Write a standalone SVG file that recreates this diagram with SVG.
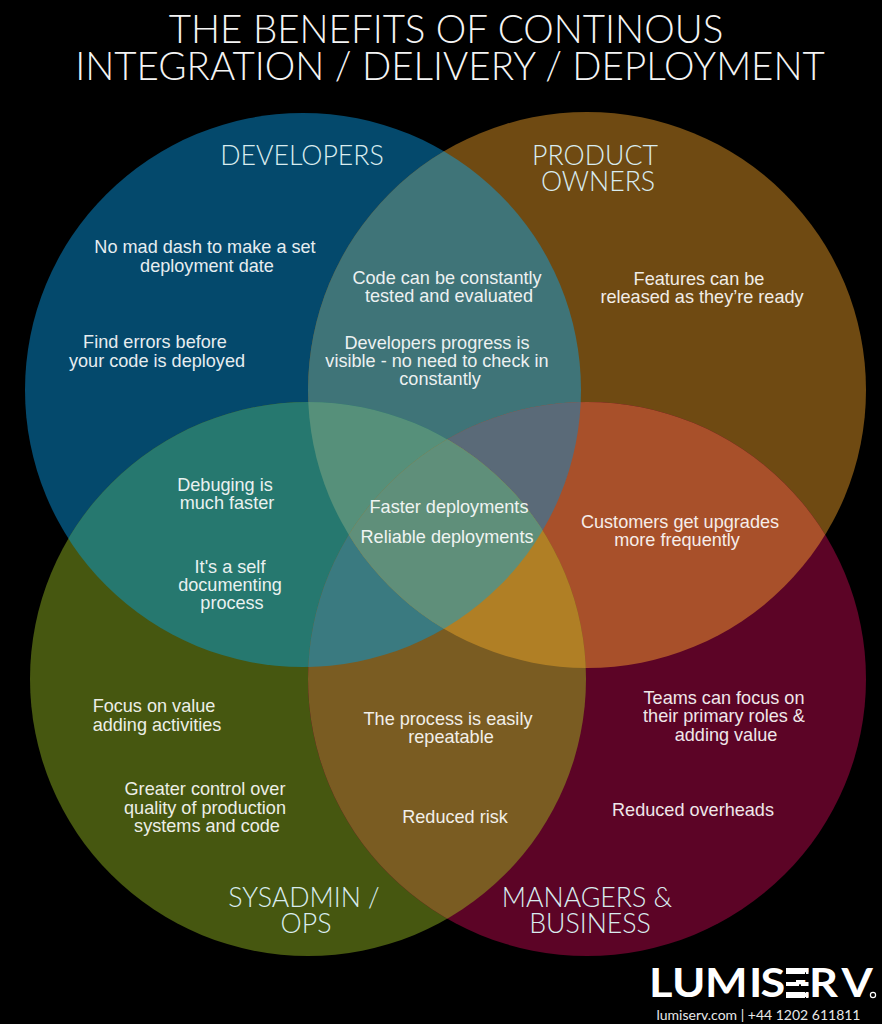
<svg xmlns="http://www.w3.org/2000/svg" width="882" height="1024" viewBox="0 0 882 1024">
<style>
.t{font-family:"Lato","Liberation Sans",sans-serif;font-weight:300;fill:#f4f4f4;text-anchor:middle}
.h{font-family:"Lato","Liberation Sans",sans-serif;font-weight:300;font-size:26.7px;fill:#d9ecef;text-anchor:middle}
.b{font-family:"Liberation Sans",Arial,sans-serif;font-size:18.1px;fill:#fff;text-anchor:middle;opacity:.9}
</style>
<defs>
<ellipse id="cd" cx="303" cy="390" rx="278" ry="277"/>
<ellipse id="cp" cx="587" cy="390" rx="279" ry="278"/>
<ellipse id="cs" cx="308" cy="679" rx="278" ry="277"/>
<ellipse id="cm" cx="587" cy="679" rx="279" ry="277"/>
<clipPath id="d"><use href="#cd"/></clipPath>
<clipPath id="p"><use href="#cp"/></clipPath>
<clipPath id="s"><use href="#cs"/></clipPath>
<clipPath id="m"><use href="#cm"/></clipPath>
</defs>
<rect width="882" height="1024" fill="#000"/>
<g id="title">
<text class="t" x="446" y="43" font-size="38.5">THE BENEFITS OF CONTINOUS</text>
<text class="t" x="450" y="80" font-size="38.5">INTEGRATION / DELIVERY / DEPLOYMENT</text>
</g>
<g id="venn-regions">
<use href="#cd" fill="#04496c"/>
<use href="#cp" fill="#6f4a12"/>
<use href="#cs" fill="#465710"/>
<use href="#cm" fill="#5c0426"/>
<g clip-path="url(#d)"><use href="#cp" fill="#3f7478"/><use href="#cs" fill="#26786f"/></g>
<g clip-path="url(#p)"><use href="#cm" fill="#a8502a"/></g>
<g clip-path="url(#s)"><use href="#cm" fill="#7a5c22"/></g>
<g clip-path="url(#d)"><g clip-path="url(#p)"><use href="#cm" fill="#5a6a78"/><use href="#cs" fill="#56907a"/></g></g>
<g clip-path="url(#s)"><g clip-path="url(#m)"><use href="#cd" fill="#3a7a80"/><use href="#cp" fill="#b07f25"/></g></g>
<g clip-path="url(#d)"><g clip-path="url(#p)"><g clip-path="url(#s)"><use href="#cm" fill="#5f8f7a"/></g></g></g>
</g>
<g id="developers">
<text class="h" x="302" y="165">DEVELOPERS</text>
<text class="b" x="205" y="253">No mad dash to make a set</text>
<text class="b" x="207" y="272">deployment date</text>
<text class="b" x="155" y="348">Find errors before</text>
<text class="b" x="157" y="367">your code is deployed</text>
</g>
<g id="product-owners">
<text class="h" x="595" y="165">PRODUCT</text>
<text class="h" x="598" y="191">OWNERS</text>
<text class="b" x="699" y="285">Features can be</text>
<text class="b" x="702" y="303">released as they’re ready</text>
</g>
<g id="dev-product">
<text class="b" x="447" y="284">Code can be constantly</text>
<text class="b" x="449" y="302">tested and evaluated</text>
<text class="b" x="437" y="349">Developers progress is</text>
<text class="b" x="437" y="367">visible - no need to check in</text>
<text class="b" x="440" y="385">constantly</text>
</g>
<g id="dev-sysadmin">
<text class="b" x="225" y="491">Debuging is</text>
<text class="b" x="227" y="509">much faster</text>
<text class="b" x="230" y="573">It's a self</text>
<text class="b" x="230" y="591">documenting</text>
<text class="b" x="232" y="609">process</text>
</g>
<g id="center">
<text class="b" x="449" y="513">Faster deployments</text>
<text class="b" x="447" y="543">Reliable deployments</text>
</g>
<g id="product-managers">
<text class="b" x="680" y="528">Customers get upgrades</text>
<text class="b" x="677" y="546">more frequently</text>
</g>
<g id="sysadmin">
<text class="b" x="154" y="712">Focus on value</text>
<text class="b" x="157" y="731">adding activities</text>
<text class="b" x="205" y="795">Greater control over</text>
<text class="b" x="205" y="814">quality of production</text>
<text class="b" x="207" y="832">systems and code</text>
<text class="h" x="304" y="907">SYSADMIN /</text>
<text class="h" x="306" y="933">OPS</text>
</g>
<g id="sysadmin-managers">
<text class="b" x="448" y="725">The process is easily</text>
<text class="b" x="451" y="743">repeatable</text>
<text class="b" x="455" y="823">Reduced risk</text>
</g>
<g id="managers">
<text class="b" x="724" y="704">Teams can focus on</text>
<text class="b" x="724" y="722">their primary roles &amp;</text>
<text class="b" x="726" y="741">adding value</text>
<text class="b" x="693" y="816">Reduced overheads</text>
<text class="h" x="587" y="907">MANAGERS &amp;</text>
<text class="h" x="590" y="933">BUSINESS</text>
</g>
<g id="logo">
<text transform="scale(1.1,1)" x="590 611 641 681 691.4 712.7 735.5 765" y="997.5" font-family="Lato,'Liberation Sans',sans-serif" font-weight="700" font-size="41" fill="#fff">LUMISERV</text>
<g fill="#000"><rect x="785" y="974" width="11" height="8"/><rect x="785" y="986" width="11" height="6"/></g>
<g fill="#fff"><rect x="786" y="968" width="19" height="6"/><rect x="786" y="982" width="13" height="4"/><rect x="786" y="992" width="19" height="6"/><rect x="806" y="968" width="2.5" height="6"/><rect x="801" y="982" width="7.5" height="4"/><rect x="806" y="992" width="2.5" height="6"/></g>
<circle cx="873" cy="995" r="2.6" fill="none" stroke="#fff" stroke-width="1.2"/>
<text x="758.5" y="1020" font-family="Lato,'Liberation Sans',sans-serif" font-size="14" fill="#e8e8e8" text-anchor="middle">lumiserv.com | +44 1202 611811</text>
</g>
</svg>
